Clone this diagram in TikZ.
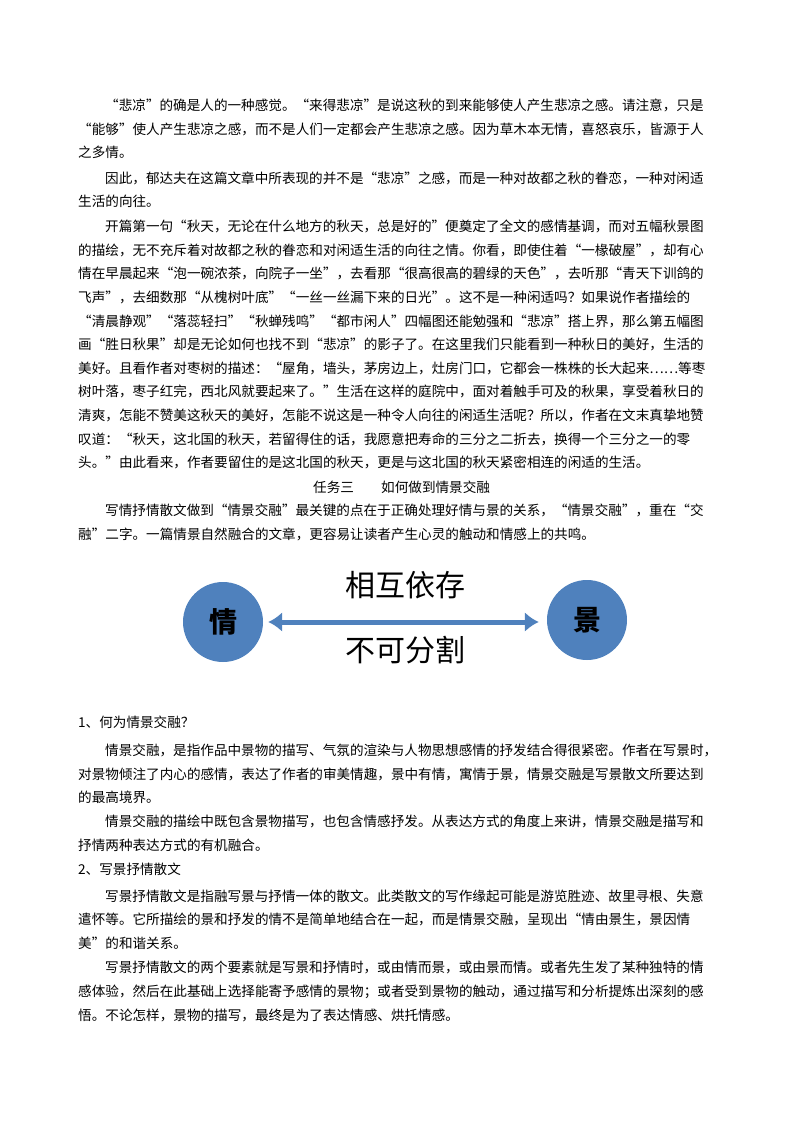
\documentclass[tikz,border=0pt]{standalone}
\usepackage{fontspec}
\setmainfont{Noto Sans CJK SC}
\usetikzlibrary{arrows.meta}
\definecolor{qjblue}{HTML}{4F81BD}
\tikzset{
  line/.style={anchor=base west,inner sep=0pt,font=\fontsize{13.6}{14}\selectfont},
  ball/.style={shape=circle,fill=qjblue,minimum size=80pt,inner sep=0pt,font=\fontsize{28}{30}\selectfont\bfseries},
  big/.style={font=\fontsize{30}{32}\selectfont,inner sep=0pt}
}
\begin{document}
\begin{tikzpicture}[x=1pt,y=-1pt]
\useasboundingbox (0,0) rectangle (800,1132);
\foreach \y/\x/\t [count=\i] in {
  110/105/{“悲凉”的确是人的一种感觉。“来得悲凉”是说这秋的到来能够使人产生悲凉之感。请注意，只是},
  134/78/{“能够”使人产生悲凉之感，而不是人们一定都会产生悲凉之感。因为草木本无情，喜怒哀乐，皆源于人},
  157/78/{之多情。},
  183/105/{因此，郁达夫在这篇文章中所表现的并不是“悲凉”之感，而是一种对故都之秋的眷恋，一种对闲适},
  206/78/{生活的向往。},
  231/105/{开篇第一句“秋天，无论在什么地方的秋天，总是好的”便奠定了全文的感情基调，而对五幅秋景图},
  255/78/{的描绘，无不充斥着对故都之秋的眷恋和对闲适生活的向往之情。你看，即使住着“一椽破屋”，却有心},
  278/78/{情在早晨起来“泡一碗浓茶，向院子一坐”，去看那“很高很高的碧绿的天色”，去听那“青天下训鸽的},
  302/78/{飞声”，去细数那“从槐树叶底”“一丝一丝漏下来的日光”。这不是一种闲适吗？如果说作者描绘的},
  326/78/{“清晨静观”“落蕊轻扫”“秋蝉残鸣”“都市闲人”四幅图还能勉强和“悲凉”搭上界，那么第五幅图},
  349/78/{画“胜日秋果”却是无论如何也找不到“悲凉”的影子了。在这里我们只能看到一种秋日的美好，生活的},
  373/78/{美好。且看作者对枣树的描述：“屋角，墙头，茅房边上，灶房门口，它都会一株株的长大起来……等枣},
  396/78/{树叶落，枣子红完，西北风就要起来了。”生活在这样的庭院中，面对着触手可及的秋果，享受着秋日的},
  420/78/{清爽，怎能不赞美这秋天的美好，怎能不说这是一种令人向往的闲适生活呢？所以，作者在文末真挚地赞},
  444/78/{叹道：“秋天，这北国的秋天，若留得住的话，我愿意把寿命的三分之二折去，换得一个三分之一的零},
  467/78/{头。”由此看来，作者要留住的是这北国的秋天，更是与这北国的秋天紧密相连的闲适的生活。},
  492/313/{任务三　　如何做到情景交融},
  515/105/{写情抒情散文做到“情景交融”最关键的点在于正确处理好情与景的关系，“情景交融”，重在“交},
  539/78/{融”二字。一篇情景自然融合的文章，更容易让读者产生心灵的触动和情感上的共鸣。},
  727/78/{1、何为情景交融？},
  755/105/{情景交融，是指作品中景物的描写、气氛的渲染与人物思想感情的抒发结合得很紧密。作者在写景时，},
  779/78/{对景物倾注了内心的感情，表达了作者的审美情趣，景中有情，寓情于景，情景交融是写景散文所要达到},
  802/78/{的最高境界。},
  826/105/{情景交融的描绘中既包含景物描写，也包含情感抒发。从表达方式的角度上来讲，情景交融是描写和},
  850/78/{抒情两种表达方式的有机融合。},
  874/78/{2、写景抒情散文},
  901/105/{写景抒情散文是指融写景与抒情一体的散文。此类散文的写作缘起可能是游览胜迹、故里寻根、失意},
  924/78/{遣怀等。它所描绘的景和抒发的情不是简单地结合在一起，而是情景交融，呈现出“情由景生，景因情},
  948/78/{美”的和谐关系。},
  972/105/{写景抒情散文的两个要素就是写景和抒情时，或由情而景，或由景而情。或者先生发了某种独特的情},
  996/78/{感体验，然后在此基础上选择能寄予感情的景物；或者受到景物的触动，通过描写和分析提炼出深刻的感},
  1020/78/{悟。不论怎样，景物的描写，最终是为了表达情感、烘托情感。}}
  \node[line] (l\i) at (\x,\y) {\t};
% diagram
\node[ball] (qing) at (223,622) {情};
\node[ball] (jing) at (587,620) {景};
\draw[qjblue,line width=5pt,{Latex[length=14pt,width=20pt]}-{Latex[length=14pt,width=20pt]}]
  ([xshift=5pt]qing.east) -- ([xshift=-8pt]jing.west |- qing.east);
\node[big] (top) at (405,585) {相互依存};
\node[big] (bot) at (405,650) {不可分割};
\end{tikzpicture}
\end{document}
